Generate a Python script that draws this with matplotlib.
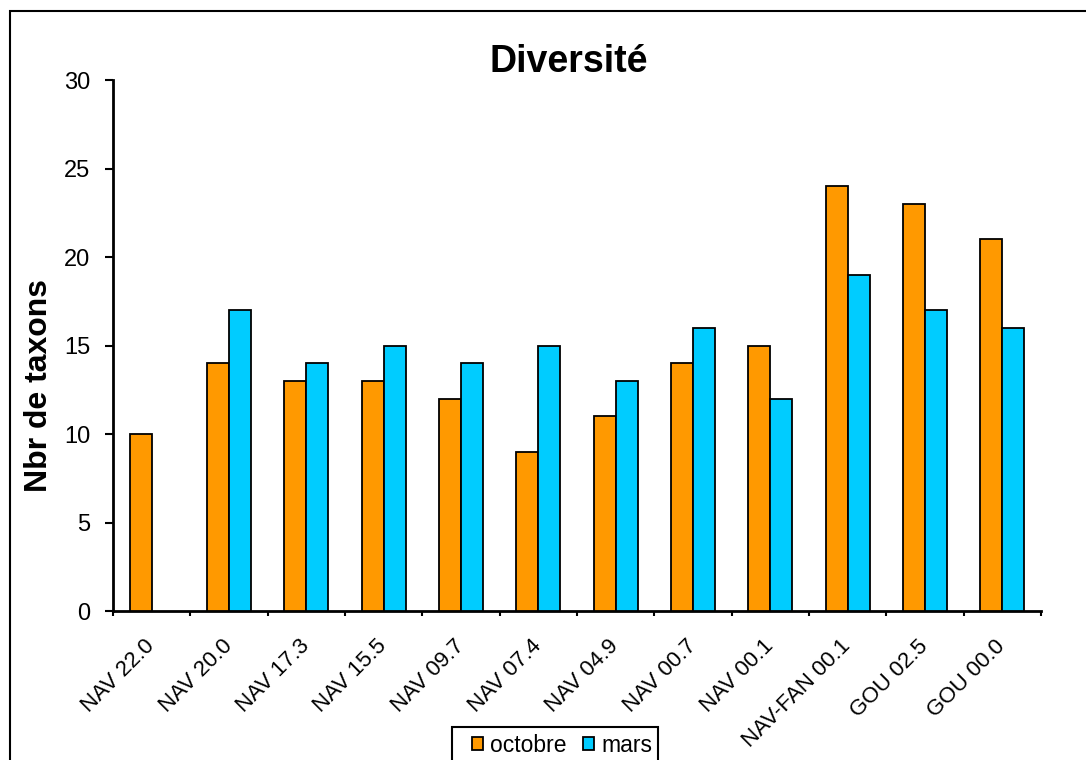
import numpy as np
import matplotlib.pyplot as plt
from matplotlib.patches import Rectangle

plt.rcParams['font.family'] = ['Liberation Sans', 'DejaVu Sans']

stations = ['NAV 22.0', 'NAV 20.0', 'NAV 17.3', 'NAV 15.5', 'NAV 09.7', 'NAV 07.4',
            'NAV 04.9', 'NAV 00.7', 'NAV 00.1', 'NAV-FAN 00.1', 'GOU 02.5', 'GOU 00.0']
octobre = [10, 14, 13, 13, 12, 9, 11, 14, 15, 24, 23, 21]
mars = [np.nan, 17, 14, 15, 14, 15, 13, 16, 12, 19, 17, 16]

W, H = 1086, 760
fig = plt.figure(figsize=(W / 100, H / 100), dpi=100)
ax = fig.add_axes([0.104, 0.196, 0.8545, 0.6987])

x = np.arange(len(stations))
w = 0.285
ax.bar(x - w / 2, octobre, w, color='#FF9900', edgecolor='black', linewidth=1.3,
       label='octobre', zorder=3)
ax.bar(x + w / 2, mars, w, color='#00CCFF', edgecolor='black', linewidth=1.3,
       label='mars', zorder=3)

ax.set_xlim(-0.5, len(stations) - 0.5)
ax.set_ylim(0, 30)
ax.set_yticks(range(0, 31, 5))
ax.tick_params(axis='y', labelsize=17, length=5.5, width=1.5, direction='out', pad=11)

# ticks between groups, labels centred under each group
ax.set_xticks(np.arange(-0.5, len(stations), 1))
ax.set_xticklabels([])
ax.set_xticks(x, minor=True)
ax.set_xticklabels(stations, minor=True, rotation=45, ha='right', va='center',
                   rotation_mode='anchor', fontsize=16)
ax.tick_params(axis='x', which='major', length=3.5, width=1.5, direction='out')
ax.tick_params(axis='x', which='minor', length=0, pad=23)

for s in ['top', 'right']:
    ax.spines[s].set_visible(False)
for s in ['left', 'bottom']:
    ax.spines[s].set_linewidth(2)

ax.set_ylabel('Nbr de taxons', fontsize=23, fontweight='bold')
ax.yaxis.set_label_coords(-0.063, 0.424)
ax.set_title('Diversité', fontsize=27, fontweight='bold', pad=2, x=0.491)

# legend entries, with its own box drawn below
leg = fig.legend(loc='center left', bbox_to_anchor=(472 / W, 1 - 745 / H), ncol=2,
                 fontsize=16.5, frameon=False, handlelength=0.5,
                 handleheight=0.5, handletextpad=0.3, columnspacing=0.7,
                 borderpad=0, borderaxespad=0)
fig.patches.append(Rectangle((452 / W, -0.05), 206 / W, 0.05 + 1 - 727 / H,
                             transform=fig.transFigure, fill=False,
                             edgecolor='black', linewidth=1.5))

# outer chart frame
fig.patches.append(Rectangle((10 / W, -0.05), 1.1, 1 - 11 / H + 0.05,
                             transform=fig.transFigure, fill=False,
                             edgecolor='black', linewidth=1.5))

fig.savefig('out.png', dpi=100)
